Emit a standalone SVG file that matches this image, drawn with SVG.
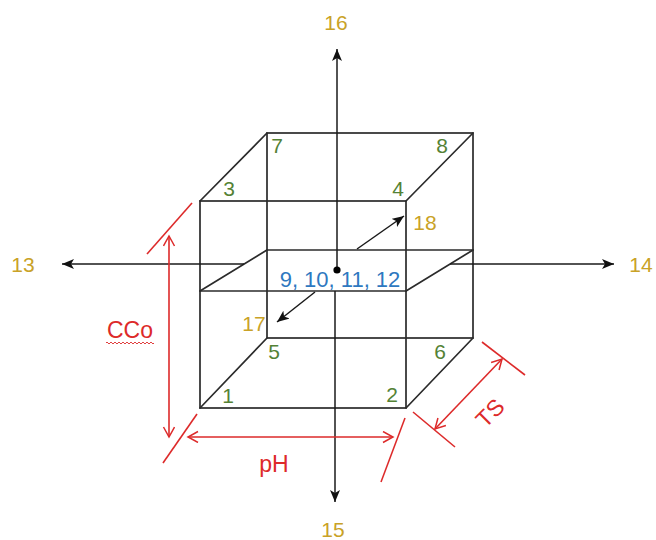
<svg xmlns="http://www.w3.org/2000/svg" width="656" height="540" viewBox="0 0 656 540">
<style>
.edge{stroke:#2b2b2b;stroke-width:1.7;fill:none;stroke-linecap:round}
.axis{stroke:#1a1a1a;stroke-width:1.5;fill:none}
.red{stroke:#dd2a2a;stroke-width:1.6;fill:none}
text{font-family:"Liberation Sans",Arial,sans-serif;font-size:21px;text-anchor:middle}
.gold{fill:#c9a227}
.green{fill:#548235}
.blue{fill:#2e78c0;font-size:22px}
.redt{fill:#dd2a2a;font-size:23px}
</style>
<defs>
<marker id="ah" markerUnits="userSpaceOnUse" markerWidth="14" markerHeight="12" refX="12" refY="5" orient="auto">
<path d="M0,0 L12,5 L0,10 L3,5 z" fill="#111"/>
</marker>
<marker id="ra" markerUnits="userSpaceOnUse" markerWidth="14" markerHeight="14" refX="11" refY="6" orient="auto-start-reverse">
<path d="M1,0.5 L11,6 L1,11.5" fill="none" stroke="#dd2a2a" stroke-width="1.5"/>
</marker>
</defs>
<rect width="656" height="540" fill="#fff"/>
<g id="cube">
<rect class="edge" x="200" y="201" width="206" height="207"/>
<rect class="edge" x="267" y="133" width="206" height="205"/>
<line class="edge" x1="200" y1="201" x2="267" y2="133"/>
<line class="edge" x1="406" y1="201" x2="473" y2="133"/>
<line class="edge" x1="200" y1="408" x2="267" y2="338"/>
<line class="edge" x1="406" y1="408" x2="473" y2="338"/>
</g>
<g id="mid-plane">
<line class="edge" x1="200" y1="291" x2="406" y2="291"/>
<line class="edge" x1="267" y1="250" x2="473" y2="250"/>
<line class="edge" x1="200" y1="291" x2="267" y2="250"/>
<line class="edge" x1="406" y1="291" x2="473" y2="250"/>
</g>
<g id="connectors">
<line class="axis" x1="244" y1="264" x2="62" y2="264" marker-end="url(#ah)"/>
<line class="axis" x1="450" y1="264" x2="614" y2="264" marker-end="url(#ah)"/>
<line class="axis" x1="337" y1="271" x2="337" y2="49" marker-end="url(#ah)"/>
<line class="axis" x1="335" y1="291" x2="335" y2="502" marker-end="url(#ah)"/>
<line class="axis" x1="315" y1="292" x2="277" y2="322" marker-end="url(#ah)"/>
<line class="axis" x1="357" y1="249" x2="404" y2="216" marker-end="url(#ah)"/>
<circle cx="337" cy="270" r="3.6" fill="#000"/>
</g>
<g id="dimensions">
<line class="red" x1="147" y1="254" x2="192" y2="203"/>
<line class="red" x1="163" y1="463" x2="197" y2="414"/>
<line class="red" x1="169" y1="236" x2="169" y2="437" marker-start="url(#ra)" marker-end="url(#ra)"/>
<line class="red" x1="405" y1="418" x2="381" y2="482"/>
<line class="red" x1="188" y1="437" x2="393" y2="437" marker-start="url(#ra)" marker-end="url(#ra)"/>
<line class="red" x1="413" y1="412" x2="455" y2="447"/>
<line class="red" x1="482" y1="342" x2="525" y2="375"/>
<line class="red" x1="435" y1="429" x2="502" y2="359" marker-start="url(#ra)" marker-end="url(#ra)"/>
<path d="M106,343 q1,-2 2,0 t2,0 t2,0 t2,0 t2,0 t2,0 t2,0 t2,0 t2,0 t2,0 t2,0 t2,0 t2,0 t2,0 t2,0 t2,0 t2,0 t2,0 t2,0 t2,0 t2,0 t2,0 t2,0 t2,0" stroke="#dd2a2a" stroke-width="0.9" fill="none"/>
</g>
<g id="labels">
<text class="gold" x="336" y="30">16</text>
<text class="gold" x="23" y="272">13</text>
<text class="gold" x="641" y="272">14</text>
<text class="gold" x="333" y="537">15</text>
<text class="gold" x="254" y="331">17</text>
<text class="gold" x="425" y="230">18</text>
<text class="green" x="277" y="153">7</text>
<text class="green" x="229" y="196">3</text>
<text class="green" x="442" y="153">8</text>
<text class="green" x="398" y="196">4</text>
<text class="green" x="274" y="359">5</text>
<text class="green" x="228" y="403">1</text>
<text class="green" x="440" y="359">6</text>
<text class="green" x="392" y="402">2</text>
<text class="blue" x="340" y="287">9, 10, 11, 12</text>
<text class="redt" x="130" y="338">CCo</text>
<text class="redt" x="274" y="472">pH</text>
<text class="redt" transform="translate(490,413) rotate(-45)" x="0" y="8">TS</text>
</g>
</svg>
